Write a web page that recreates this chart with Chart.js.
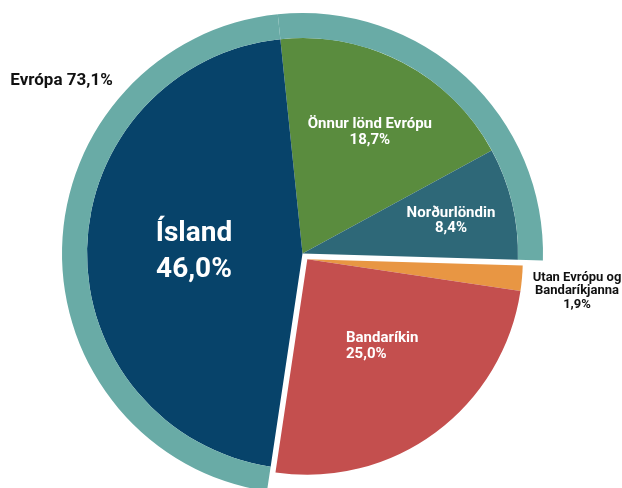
<!DOCTYPE html>
<html>
<head>
<meta charset="utf-8">
<script src="https://cdn.jsdelivr.net/npm/chart.js@4"></script>
<style>
  html, body { margin: 0; padding: 0; background: #ffffff; overflow: hidden; }
  #wrap { position: absolute; left: 0; top: 0; width: 622px; height: 507px; }
</style>
</head>
<body>
<div id="wrap"><canvas id="c"></canvas></div>
<script>
// ---- data ----
const categories = ['Önnur lönd Evrópu', 'Norðurlöndin', 'Utan Evrópu og Bandaríkjanna', 'Bandaríkin', 'Ísland'];
const shares = [18.7, 8.4, 1.9, 25.0, 46.0];
const europe = [true, true, false, false, true];
const exploded = [false, false, true, true, false];
const groupTitle = 'Evrópa';

// ---- derived ----
const fmt = v => v.toFixed(1).replace('.', ',') + '%';
const europeOther = shares[0] + shares[1];
const nonEurope = shares[2] + shares[3];
const europeTotal = shares.filter((v, i) => europe[i]).reduce((a, b) => a + b, 0);
const ringValues = [europeOther, nonEurope, shares[4]];

const pieColors = ['#5a8c3e', '#2e6878', '#e89643', '#c44f4e', '#07436a'];
const ringColors = ['#69aba6', 'rgba(0,0,0,0)', '#69aba6'];

// label layout: dataset index, element index, lines, font px, line height, radius fraction, angle shift (deg), align, color
const labels = [
  {ds: 1, idx: 4, lines: ['Ísland', fmt(shares[4])], size: 28, lh: 36, frac: 0.505, shift: 2.9, dy: 6, align: 'center', color: '#fff'},
  {ds: 1, idx: 0, lines: [categories[0], fmt(shares[0])], size: 15, lh: 16, frac: 0.654, shift: 0.8, dy: 2.5, align: 'center', color: '#fff'},
  {ds: 1, idx: 1, lines: [categories[1], fmt(shares[1])], size: 15, lh: 15.5, frac: 0.707, shift: 0.5, dy: 1.5, align: 'center', color: '#fff'},
  {ds: 1, idx: 3, lines: [categories[3], fmt(shares[3])], size: 15, lh: 15.5, frac: 0.433, shift: 12, dy: 2, align: 'left', color: '#fff'},
  {ds: 1, idx: 2, lines: ['Utan Evrópu og', 'Bandaríkjanna', fmt(shares[2])], size: 13, lh: 13.5, frac: 1.259, shift: 1.2, dy: 2, align: 'center', color: '#111'},
  {ds: 0, idx: 2, lines: [groupTitle + ' ' + fmt(europeTotal)], size: 17, lh: 17, frac: 1.237, shift: 34.6, dy: 2, align: 'center', color: '#111'}
];

const explodePlugin = {
  id: 'explodeGroup',
  afterDatasetsUpdate(chart) {
    const meta = chart.getDatasetMeta(1);
    const els = meta.data.filter((e, i) => exploded[i]);
    if (!els.length) return;
    const start = Math.min(...els.map(e => e.startAngle));
    const end = Math.max(...els.map(e => e.endAngle));
    const mid = (start + end) / 2;
    const d = 7.5;
    els.forEach(e => { e.x += Math.cos(mid) * d; e.y += Math.sin(mid) * d; });
  }
};

const labelPlugin = {
  id: 'sliceLabels',
  afterDatasetsDraw(chart) {
    const ctx = chart.ctx;
    ctx.save();
    labels.forEach(l => {
      const el = chart.getDatasetMeta(l.ds).data[l.idx];
      const mid = (el.startAngle + el.endAngle) / 2 + l.shift * Math.PI / 180;
      const r = l.frac * el.outerRadius;
      const cx = el.x + Math.cos(mid) * r;
      const cy = el.y + Math.sin(mid) * r + l.dy;
      ctx.font = 'bold ' + l.size + 'px Roboto, "DejaVu Sans", sans-serif';
      ctx.fillStyle = l.color;
      ctx.textAlign = l.align;
      ctx.textBaseline = 'middle';
      const n = l.lines.length;
      l.lines.forEach((t, i) => {
        ctx.fillText(t, cx, cy + (i - (n - 1) / 2) * l.lh);
      });
    });
    ctx.restore();
  }
};

new Chart(document.getElementById('c'), {
  type: 'pie',
  data: {
    labels: categories,
    datasets: [
      {data: ringValues, backgroundColor: ringColors, borderWidth: 0, weight: 25},
      {data: shares, backgroundColor: pieColors, borderWidth: 0, weight: 215.5}
    ]
  },
  options: {
    responsive: true,
    maintainAspectRatio: false,
    animation: false,
    events: [],
    rotation: -5.9,
    radius: 240.5,
    layout: {padding: {right: 17}},
    plugins: {legend: {display: false}, tooltip: {enabled: false}}
  },
  plugins: [explodePlugin, labelPlugin]
});
</script>
</body>
</html>
